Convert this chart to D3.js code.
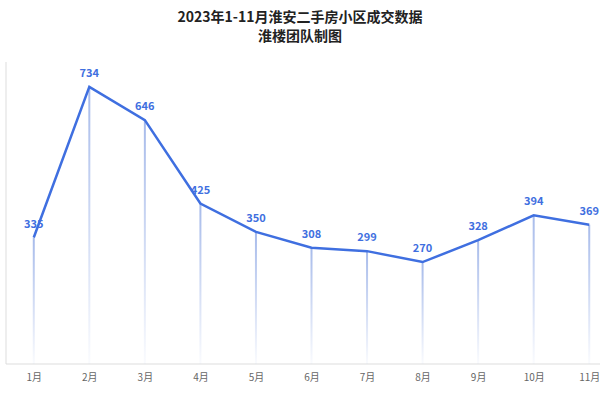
<!DOCTYPE html>
<html><head><meta charset="utf-8">
<script src="https://cdn.jsdelivr.net/npm/d3@7"></script>
<style>body{margin:0;background:#fff}text{font-family:"Noto Sans CJK SC","Noto Sans",sans-serif}</style>
</head><body><svg id="c" width="600" height="400"></svg>
<script>
const months = ["1月","2月","3月","4月","5月","6月","7月","8月","9月","10月","11月"];
const deals = [335,734,646,425,350,308,299,270,328,394,369];

const svg = d3.select("#c");
const plotLeft = 6, plotRight = 617, plotTop = 62, plotBottom = 364;
const x = d3.scalePoint().domain(months).range([plotLeft, plotRight]).padding(0.5);
const y = d3.scaleLinear().domain([0, 800]).range([plotBottom, plotTop]);

svg.append("text").attr("x", 300).attr("y", 22).attr("text-anchor", "middle")
  .attr("font-size", 14).attr("font-weight", "bold").attr("fill", "#222").text("2023年1-11月淮安二手房小区成交数据");
svg.append("text").attr("x", 300).attr("y", 41).attr("text-anchor", "middle")
  .attr("font-size", 14).attr("font-weight", "bold").attr("fill", "#222").text("淮楼团队制图");

const grad = svg.append("defs").append("linearGradient").attr("id", "g")
  .attr("x1", 0).attr("y1", 0).attr("x2", 0).attr("y2", 1);
grad.append("stop").attr("offset", 0).attr("stop-color", "#9db3e8").attr("stop-opacity", 0.9);
grad.append("stop").attr("offset", 1).attr("stop-color", "#9db3e8").attr("stop-opacity", 0.05);

// frame
svg.append("line").attr("x1", plotLeft).attr("x2", plotLeft).attr("y1", plotTop).attr("y2", plotBottom).attr("stroke", "#ddd");
svg.append("line").attr("x1", plotLeft).attr("x2", 600).attr("y1", plotBottom).attr("y2", plotBottom).attr("stroke", "#ddd");

svg.selectAll(".drop").data(deals).join("rect")
  .attr("x", (d, i) => x(months[i]) - 1).attr("width", 2)
  .attr("y", d => y(d)).attr("height", d => plotBottom - y(d))
  .attr("fill", "url(#g)");

svg.append("path").datum(deals)
  .attr("d", d3.line().x((d, i) => x(months[i])).y(d => y(d)))
  .attr("fill", "none").attr("stroke", "#3f6fe0").attr("stroke-width", 2.5);

svg.selectAll(".lbl").data(deals).join("text")
  .attr("x", (d, i) => x(months[i])).attr("y", d => y(d) - 10)
  .attr("text-anchor", "middle").attr("font-size", 11).attr("font-weight", "bold")
  .attr("fill", "#3f6fe0").text(d => d);

const ax = svg.append("g").attr("transform", `translate(0,${plotBottom})`)
  .call(d3.axisBottom(x).tickSize(0).tickPadding(10));
ax.select(".domain").remove();
ax.selectAll("text").attr("font-size", 10).attr("fill", "#666")
  .style("font-family", '"Noto Sans CJK SC",sans-serif');
</script></body></html>
